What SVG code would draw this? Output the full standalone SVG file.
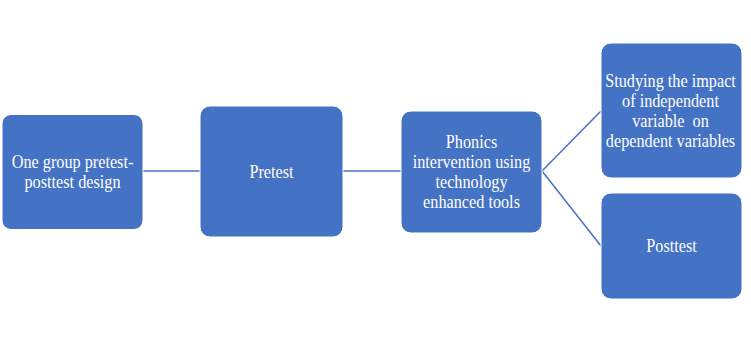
<svg xmlns="http://www.w3.org/2000/svg" width="751" height="344" viewBox="0 0 751 344">
<style>
.box{fill:#4472C4;stroke:#FFFFFF;stroke-width:1}
.lbl{font-family:"Liberation Serif","Times New Roman",serif;font-size:19px;fill:#FFFFFF;text-anchor:middle}
.conn{stroke:#4472C4;stroke-width:1.5;fill:none}
</style>
<rect x="0" y="0" width="751" height="344" fill="#FFFFFF"/>
<g id="connectors">
<line class="conn" x1="143" y1="171" x2="200" y2="171"/>
<line class="conn" x1="343" y1="171" x2="401" y2="171"/>
<line class="conn" x1="542" y1="171" x2="601" y2="111"/>
<line class="conn" x1="542" y1="171" x2="601" y2="246"/>
</g>
<g id="node-design">
<rect class="box" x="2" y="114.5" width="141" height="115" rx="9"/>
<g transform="translate(72.5 0) scale(0.855 1)"><text class="lbl" x="0" y="168">One group pretest-</text><text class="lbl" x="0" y="188">posttest design</text></g>
</g>
<g id="node-pretest">
<rect class="box" x="200" y="106" width="143" height="131" rx="10"/>
<g transform="translate(271.5 0) scale(0.855 1)"><text class="lbl" x="0" y="178">Pretest</text></g>
</g>
<g id="node-intervention">
<rect class="box" x="401" y="111" width="141" height="122" rx="10"/>
<g transform="translate(471.5 0) scale(0.855 1)"><text class="lbl" x="0" y="148">Phonics</text><text class="lbl" x="0" y="168">intervention using</text><text class="lbl" x="0" y="188">technology</text><text class="lbl" x="0" y="208">enhanced tools</text></g>
</g>
<g id="node-impact">
<rect class="box" x="601" y="43" width="141" height="135" rx="10"/>
<g transform="translate(670.5 0) scale(0.855 1)"><text class="lbl" x="0" y="87">Studying the impact</text><text class="lbl" x="0" y="107">of independent</text><text class="lbl" x="0" y="127">variable&#160; on</text><text class="lbl" x="0" y="147">dependent variables</text></g>
</g>
<g id="node-posttest">
<rect class="box" x="601" y="193" width="141" height="106" rx="10"/>
<g transform="translate(671.5 0) scale(0.855 1)"><text class="lbl" x="0" y="252">Posttest</text></g>
</g>
</svg>
